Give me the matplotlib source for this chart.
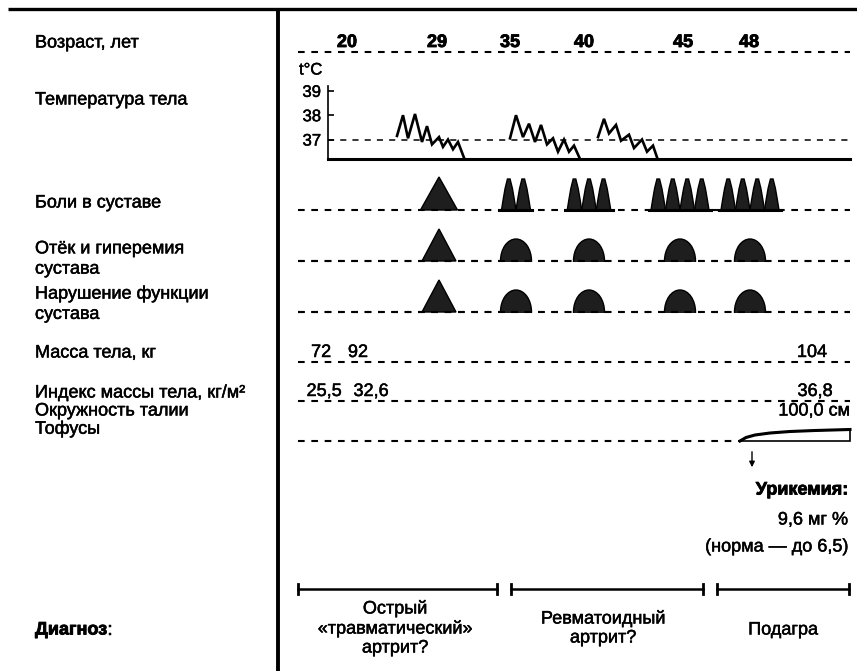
import matplotlib
matplotlib.use('Agg')
import matplotlib.pyplot as plt
from matplotlib.patches import Polygon, Ellipse
import matplotlib.patheffects as pe

plt.rcParams['font.family'] = ['Liberation Sans', 'DejaVu Sans']

# ---- data ----
ages = [20, 29, 35, 40, 45, 48]

row_labels = ['Возраст, лет', 'Температура тела', 'Боли в суставе',
              'Отёк и гиперемия\nсустава', 'Нарушение функции\nсустава',
              'Масса тела, кг', 'Индекс массы тела, кг/м²',
              'Окружность талии', 'Тофусы']

# temperature episodes (x along the time scale, t in °C)
temp1_x = [397, 403, 408, 415, 422, 427, 432, 439, 443, 448, 453, 458, 464]
temp1_t = [37.15, 38.0, 37.05, 38.05, 36.9, 37.55, 36.8, 37.1, 36.7, 37.0, 36.6, 36.9, 36.25]
temp2_x = [510, 516, 523, 529, 535, 541, 547, 553, 558, 564, 569, 574, 580]
temp2_t = [37.05, 38.0, 37.1, 37.65, 36.9, 37.6, 36.8, 37.05, 36.5, 37.0, 36.5, 36.75, 36.2]
temp3_x = [598, 604, 609, 616, 621, 629, 634, 642, 647, 653, 658]
temp3_t = [37.1, 37.85, 37.25, 37.6, 36.95, 37.2, 36.65, 37.0, 36.5, 36.75, 36.15]

# joint symptoms at ages 29, 35, 40, 45, 48
episode_ages = [29, 35, 40, 45, 48]
pain_count = [1, 2, 3, 4, 4]
swelling_kind = ['tri', 'dome', 'dome', 'dome', 'dome']
function_kind = ['tri', 'dome', 'dome', 'dome', 'dome']

mass_values = ['72', '92', '104']
bmi_values = ['25,5', '32,6', '36,8']
waist_value = '100,0 см'

uric_lines = ['Урикемия:', '9,6 мг %', '(норма — до 6,5)']

diagnoses = ['Острый\n«травматический»\nартрит?', 'Ревматоидный\nартрит?', 'Подагра']

# ---- layout (pixel units) ----
W, H = 857, 671
age_x = [347, 437, 510, 584, 683, 749]
sym_x = [347, 439, 516, 589, 680, 750]
label_y = [43, 100, 203, 259, 304, 353, 393, 411, 429]
row_line_y = {'age': 52, 'pain': 210, 'swell': 261, 'func': 312,
              'mass': 362, 'bmi': 401, 'toph': 441}
mass_x = [321, 358, 812]
bmi_x = [324, 371, 815]
diag_spans = [(298, 497), (511, 703), (717, 849)]
diag_text_x = [395, 603, 783]
diag_text_y = [628, 628, 630]
LX = 35
DX0, DX1 = 298, 850

heavy = [pe.withStroke(linewidth=0.35, foreground='black')]
heavier = [pe.withStroke(linewidth=0.6, foreground='black')]

fig = plt.figure(figsize=(W / 100, H / 100), dpi=100)
ax = fig.add_axes([0, 0, 1, 1])
ax.set_xlim(0, W)
ax.set_ylim(H, 0)
ax.axis('off')

# frame lines
ax.plot([8, W], [9, 9], color='black', lw=2.4, solid_capstyle='butt')
ax.plot([278, 278], [9, H], color='black', lw=2.8, solid_capstyle='butt')

fs = 13
for lab, y in zip(row_labels, label_y):
    ax.text(LX, y, lab, fontsize=fs, va='center', ha='left', linespacing=1.25,
            path_effects=heavy)
dg = ax.text(LX, 630, 'Диагноз', fontsize=fs, va='center', ha='left', fontweight='bold',
             path_effects=heavier)
ax.annotate(':', xy=(1, 0.5), xycoords=dg, xytext=(0.5, 0), textcoords='offset points',
            fontsize=fs, va='center', ha='left', path_effects=heavy)

dash = dict(color='black', lw=1.5, linestyle=(0, (3.2, 3.2)))


def row_line(y, x0=DX0, x1=DX1):
    ax.plot([x0, x1], [y, y], **dash)


# age row
row_line(row_line_y['age'])
for a, x in zip(ages, age_x):
    ax.text(x, row_line_y['age'] - 1, str(a), fontsize=13, fontweight='bold',
            ha='center', va='bottom', path_effects=heavier)

# temperature panel
tax = fig.add_axes([328 / W, 1 - 159 / H, (850 - 328) / W, (159 - 86) / H])
tax.set_xlim(328, 850)
tax.set_ylim(36.2, 39.2)
tax.patch.set_alpha(0)
for s in ['top', 'right']:
    tax.spines[s].set_visible(False)
tax.spines['left'].set_linewidth(1.2)
tax.spines['bottom'].set_linewidth(2.2)
tax.set_xticks([])
tax.set_yticks([37, 38, 39])
tax.tick_params(axis='y', direction='in', length=4, width=1.2, labelsize=12, pad=5)
for t in tax.get_yticklabels():
    t.set_path_effects(heavy)
tax.axhline(37, color='black', lw=1.1, linestyle=(0, (4, 4)))
for xs, ts in [(temp1_x, temp1_t), (temp2_x, temp2_t), (temp3_x, temp3_t)]:
    tax.plot(xs, ts, color='black', lw=1.9, solid_joinstyle='miter')
ax.text(299, 70, 't°C', fontsize=12, ha='left', va='center', path_effects=heavy)

FILL = '#1e1e1e'


def triangle(xc, yb, w, h):
    ax.add_patch(Polygon([[xc - w / 2, yb], [xc, yb - h], [xc + w / 2, yb]],
                         closed=True, facecolor=FILL, edgecolor='black', lw=1))


def spikes(xc, yb, n, w=14.5, h=31):
    x0 = xc - n * w / 2
    for i in range(n):
        cx = x0 + w * (i + 0.5)
        ax.add_patch(Polygon([[cx - w / 2, yb], [cx - w * 0.38, yb - h * 0.35],
                              [cx - w * 0.25, yb - h * 0.7], [cx - 1.3, yb - h],
                              [cx + 1.3, yb - h], [cx + w * 0.25, yb - h * 0.7],
                              [cx + w * 0.38, yb - h * 0.35], [cx + w / 2, yb]],
                             closed=True, facecolor=FILL, edgecolor='black', lw=1))
    ax.plot([x0 - 2, x0 + n * w + 2], [yb, yb], color='black', lw=2.2)


def dome(xc, yb, w=31, h=22):
    ax.add_patch(Ellipse((xc, yb), w, 2 * h, facecolor=FILL, edgecolor='black', lw=1))
    ax.add_patch(Polygon([[xc - w, yb + 0.8], [xc + w, yb + 0.8], [xc + w, yb + h + 2], [xc - w, yb + h + 2]],
                         closed=True, facecolor='white', edgecolor='none', zorder=3))


pos = dict(zip(ages, sym_x))

row_line(row_line_y['pain'])
for a, n in zip(episode_ages, pain_count):
    if n == 1:
        triangle(pos[a], row_line_y['pain'], 37, 33)
    else:
        spikes(pos[a], row_line_y['pain'], n)

for key, kinds in [('swell', swelling_kind), ('func', function_kind)]:
    yb = row_line_y[key]
    row_line(yb)
    for a, k in zip(episode_ages, kinds):
        if k == 'tri':
            triangle(pos[a], yb, 34, 32)
        else:
            dome(pos[a], yb)
    ax.plot([DX0, DX1], [yb, yb], **dash, zorder=4)

# mass / BMI
row_line(row_line_y['mass'])
for v, x in zip(mass_values, mass_x):
    ax.text(x, row_line_y['mass'] - 1, v, fontsize=fs, ha='center', va='bottom',
            path_effects=heavy)
row_line(row_line_y['bmi'])
for v, x in zip(bmi_values, bmi_x):
    ax.text(x, row_line_y['bmi'] - 1, v, fontsize=fs, ha='center', va='bottom',
            path_effects=heavy)
ax.text(850, 411, waist_value, fontsize=fs, ha='right', va='center', path_effects=heavy)

# tophi
row_line(row_line_y['toph'], DX0, 740)
tx = [740, 746, 755, 770, 790, 815, 850]
ty = [441, 437.5, 435, 433, 431.5, 430.5, 429.5]
ax.add_patch(Polygon(list(zip(tx, ty)) + [[850, 441]], closed=True,
                     facecolor='white', edgecolor='black', lw=1.2))
ax.plot(tx, ty, color='black', lw=2.2)
ax.annotate('', xy=(752, 470), xytext=(752, 449),
            arrowprops=dict(arrowstyle='-|>', color='black', lw=1, mutation_scale=8))

# uricemia
ax.text(848, 490, uric_lines[0], fontsize=fs, fontweight='bold', ha='right', va='center',
        path_effects=heavier)
ax.text(848, 520, uric_lines[1], fontsize=fs, ha='right', va='center', path_effects=heavy)
ax.text(848, 547, uric_lines[2], fontsize=fs, ha='right', va='center', path_effects=heavy)

# diagnoses
for (x0, x1), txt, tx_, ty_ in zip(diag_spans, diagnoses, diag_text_x, diag_text_y):
    ax.plot([x0, x1], [589, 589], color='black', lw=1.8)
    ax.plot([x0, x0], [584, 594], color='black', lw=2)
    ax.plot([x1, x1], [584, 594], color='black', lw=2)
    ax.text(tx_, ty_, txt, fontsize=fs, ha='center', va='center', linespacing=1.15,
            path_effects=heavy)

fig.savefig('out.png', dpi=100)
